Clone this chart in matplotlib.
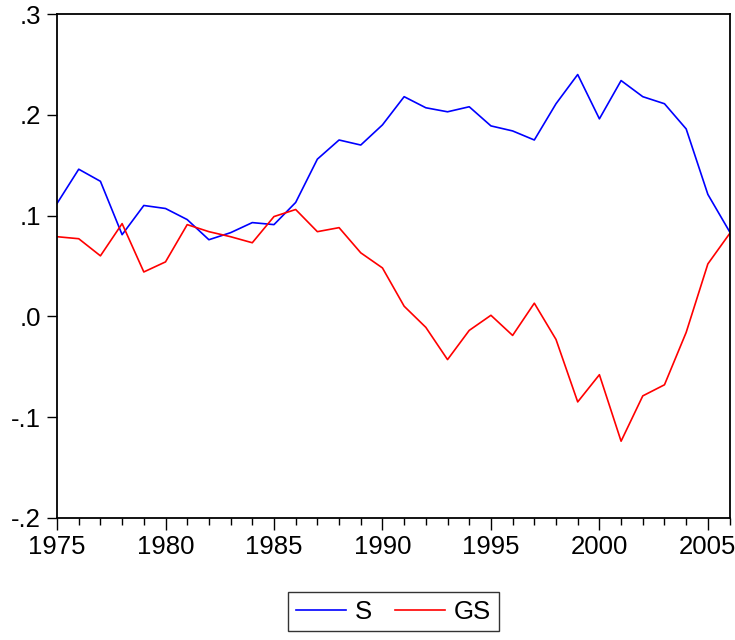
import numpy as np
import matplotlib
matplotlib.use("Agg")
import matplotlib.pyplot as plt
from matplotlib.ticker import MultipleLocator, FuncFormatter

years = list(range(1975, 2007))
s_vals = [0.112, 0.146, 0.134, 0.081, 0.110, 0.107, 0.096, 0.076, 0.083, 0.093,
          0.091, 0.113, 0.156, 0.175, 0.170, 0.190, 0.218, 0.207, 0.203, 0.208,
          0.189, 0.184, 0.175, 0.211, 0.240, 0.196, 0.234, 0.218, 0.211, 0.186,
          0.121, 0.084]
gs_vals = [0.079, 0.077, 0.060, 0.092, 0.044, 0.054, 0.091, 0.084, 0.079, 0.073,
           0.099, 0.106, 0.084, 0.088, 0.063, 0.048, 0.010, -0.011, -0.043, -0.014,
           0.001, -0.019, 0.013, -0.023, -0.085, -0.058, -0.124, -0.079, -0.068, -0.016,
           0.052, 0.082]

plt.rcParams['font.family'] = ['Liberation Sans', 'DejaVu Sans']

fig = plt.figure(figsize=(7.35, 6.4), dpi=100)
ax = fig.add_axes([0.0776, 0.191, 0.915, 0.787])

ax.plot(years, s_vals, color='#0000ff', lw=1.2, label='S')
ax.plot(years, gs_vals, color='#ff0000', lw=1.2, label='GS')

ax.set_xlim(1975, 2006)
ax.set_ylim(-0.2, 0.3)
ax.xaxis.set_major_locator(MultipleLocator(5))
ax.xaxis.set_minor_locator(MultipleLocator(1))
ax.yaxis.set_major_locator(MultipleLocator(0.1))

def fmt(v, pos):
    t = '%.1f' % v
    t = t.replace('0.', '.')
    if t == '-.0':
        t = '.0'
    return t
ax.yaxis.set_major_formatter(FuncFormatter(fmt))

ax.tick_params(axis='both', which='major', direction='out', length=7.5, width=1,
               top=False, right=False, labelsize=18.5, colors='black', pad=3)
ax.tick_params(axis='x', which='major', length=8.5, pad=4)
ax.tick_params(axis='x', which='minor', direction='out', length=5, width=1, top=False)
ax.tick_params(axis='y', which='major', pad=4)
for sp in ax.spines.values():
    sp.set_linewidth(1.3)
    sp.set_color('black')

leg = ax.legend(loc='upper center', bbox_to_anchor=(0.5, -0.147), ncol=2,
                fontsize=18.5, frameon=True, fancybox=False, edgecolor='black',
                handlelength=1.95, handletextpad=0.35, columnspacing=0.9,
                borderpad=0.3, borderaxespad=0)
leg.get_frame().set_linewidth(1.0)

fig.savefig('out.png', dpi=100)
